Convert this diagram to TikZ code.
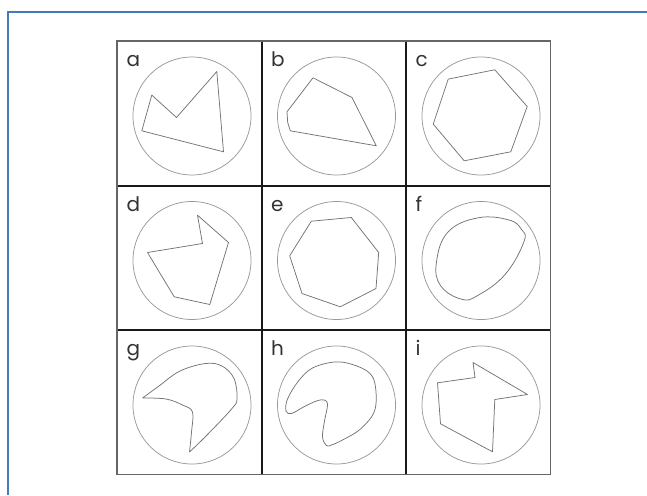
\documentclass[tikz,border=0pt]{standalone}
\usepackage{fontspec}
\setsansfont{Poppins}
\usepackage{xcolor}
\definecolor{frameblue}{RGB}{66,122,186}

\begin{document}
\begin{tikzpicture}[x=1pt,y=-1pt,
    lbl/.style={anchor=base west,inner sep=0pt,text=black!80,font=\sffamily\fontsize{20}{20}\selectfont},
    ring/.style={draw=black!40,line width=0.75pt},
    shp/.style={draw=black!55,line width=0.75pt,line join=round},
    outer/.style={draw=black!60,line width=1.7pt},
    divider/.style={draw=black!90,line width=2pt}
  ]
  \useasboundingbox (0,0) rectangle (647,495);
  \draw[frameblue,line width=2pt] (8,495) -- (8,12) -- (647,12);

  \foreach \n/\c/\r in {a/0/0,b/1/0,c/2/0,d/0/1,e/1/1,f/2/1,g/0/2,h/1/2,i/2/2}{
    \coordinate (\n) at (117+144.5*\c+75, 41+144.5*\r+75);
    \node[lbl] (lab-\n) at (117+144.5*\c+9.5, 41+144.5*\r+25.5) {\n};
    \draw[ring] (\n) circle (59pt);
  }

  \draw[divider] (261.5,41) -- (261.5,474.5);
  \draw[divider] (406,41) -- (406,474.5);
  \draw[divider] (117,185.5) -- (550.5,185.5);
  \draw[divider] (117,330) -- (550.5,330);
  \draw[outer] (117,41) rectangle (550.5,474.5);

  \draw[shp,shift={(a)}] (-40.2,-20.9) -- (-15.5,1.5) -- (24.8,-44.5) -- (31.5,35.8) -- (-50.2,14.8) -- cycle;
  \draw[shp,shift={(b)}] (-23.5,-38.2) -- (15.5,-18.5) -- (39.8,29.8) -- (-46.2,14.8) -- (-48.8,6.5) -- (-49.5,-4.2) -- cycle;
  \draw[shp,shift={(c)}] (-32.8,-36.9) -- (13.8,-46.2) -- (46.2,-9.5) -- (29.8,35.8) -- (-16.8,44.8) -- (-47.8,8.1) -- cycle;
  \draw[shp,shift={(d)}] (5.5,-45.3) -- (10.5,-17) -- (-44.5,-8) -- (-17.8,36.3) -- (17.8,44) -- (36.5,-18) -- cycle;
  \draw[shp,shift={(e)}] (-25.2,-39.3) -- (14.8,-43) -- (42.2,-8) -- (39.5,28) -- (3.8,46.3) -- (-34.5,33) -- (-46.8,-4.7) -- cycle;
  \draw[shp,shift={(f)}] plot[smooth cycle,tension=0.7] coordinates {(-2.8,-42.7) (28,-40.5) (40.5,-31) (43,-19) (24.5,13.5) (-2.8,34.7) (-19.5,38.7) (-40.5,25) (-44.5,1.3) (-32.8,-28.7)};
  \draw[shp,shift={(g)}] plot[smooth,tension=0.6] coordinates {(-49.5,-7) (-33,-19) (-12,-34) (13.5,-41.5) (30,-39) (42,-26.5) (45,-6.5) (40,3.5) (15,30) (-2.5,47)}
    plot[smooth,tension=0.6] coordinates {(-2.5,47) (-0.5,27) (0.5,7) (-9.5,0) (-26,-6) (-49.5,-7)};
  \draw[shp,shift={(h)}] plot[smooth cycle,tension=0.6] coordinates {(-50.5,6) (-49,-6) (-38,-24) (-24,-37) (-2,-43) (16,-40.5) (33,-32) (39,-18) (38,6) (24,24) (6,35) (-5,40) (-10,40.5) (-14,32) (-12,16) (-9,0) (-12,-5) (-20,-4) (-33,2) (-45,8.5)};
  \draw[shp,shift={(i)}] (-8,-42.5) -- (46.5,-10.5) -- (13.8,-5.5) -- (11.5,46.8) -- (-40.5,18.8) -- (-43.5,-22.2) -- (-6,-27.5) -- cycle;
\end{tikzpicture}
\end{document}
